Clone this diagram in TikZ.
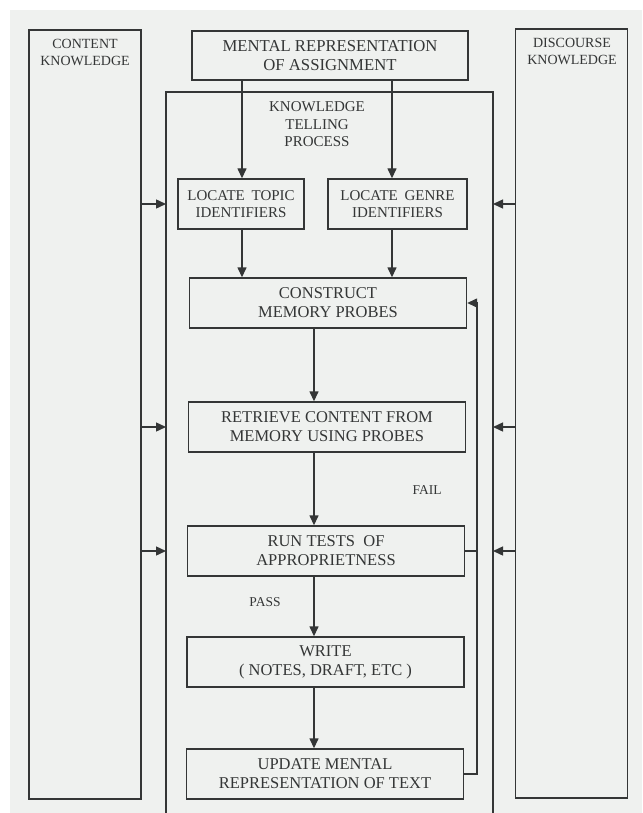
\documentclass[tikz,border=0pt]{standalone}
\usepackage{fontspec}
\setmainfont{Liberation Serif}
\usetikzlibrary{arrows.meta,positioning}
\definecolor{inkgray}{RGB}{52,54,54}
\definecolor{paper}{RGB}{239,241,239}

\begin{document}
\begin{tikzpicture}[x=1pt,y=-1pt,color=inkgray,line width=1.4pt,
    flow/.style={-{Triangle[length=10pt,width=9pt]}},
    store/.style={draw, inner sep=0pt, minimum width=112pt, minimum height=769pt},
    storetext/.style={align=center, inner sep=0pt, font=\fontsize{14}{17}\selectfont},
    idbox/.style={draw, inner sep=0pt, minimum height=50pt, align=center, font=\fontsize{15}{17}\selectfont},
    stepbox/.style={draw, inner sep=0pt, minimum width=277pt, minimum height=50pt, align=center, font=\fontsize{16.5}{19}\selectfont},
    cond/.style={inner sep=0pt, font=\fontsize{13.5}{16}\selectfont}]
        \useasboundingbox (0,0) rectangle (642,813);
        \fill[paper] (10,10) rectangle (642,813);
        % Knowledge stores
        \node (ck) at (85,414.5) [store] {};
        \node (ckl) at (85,52.5) [storetext] {CONTENT\\KNOWLEDGE};
        \node (dk) at (571.5,413.5) [store] {};
        \node (dkl) at (572,51.5) [storetext] {DISCOURSE\\KNOWLEDGE};
        % Assignment
        \node (mr) at (330,55.5) [stepbox, minimum width=276pt, minimum height=49pt, font=\fontsize{16.7}{18.5}\selectfont] {MENTAL REPRESENTATION\\OF ASSIGNMENT};
        % Process frame (open at the bottom)
        \coordinate (ktpsw) at (166,813);
        \coordinate (ktpne) at (493,92);
        \coordinate (ktpse) at (493,813);
        \draw (ktpsw) |- (ktpne) -- (ktpse);
        \node (ktp) at (317,124.5) [storetext, font=\fontsize{15}{17.5}\selectfont] {KNOWLEDGE\\TELLING\\PROCESS};
        % Process steps
        \node (lt) at (241,204) [idbox, minimum width=126pt] {LOCATE\hspace{0.45em}TOPIC\\IDENTIFIERS};
        \node (lg) at (397.5,204) [idbox, minimum width=139pt] {LOCATE\hspace{0.45em}GENRE\\IDENTIFIERS};
        \node (cmp) at (328,303) [stepbox] {CONSTRUCT\\MEMORY PROBES};
        \node (rc) at (327,427) [stepbox] {RETRIEVE CONTENT FROM\\MEMORY USING PROBES};
        \node (rt) at (326,551) [stepbox] {RUN TESTS\hspace{0.5em}OF\\APPROPRIETNESS};
        \node (wr) at (325.5,662) [stepbox] {WRITE\\( NOTES, DRAFT, ETC )};
        \node (um) at (325,774) [stepbox] {UPDATE MENTAL\\REPRESENTATION OF TEXT};
        \node (fail) at (427,490) [cond] {FAIL};
        \node (pass) at (265,602) [cond] {PASS};
        % Edges
        \coordinate (tx) at (242,0);
        \coordinate (gx) at (392,0);
        \coordinate (sx) at (314,0);
        \coordinate (fb) at (477,0);
        \foreach \a/\b in {tx/lt, gx/lg} {
            \draw[flow] (mr.south -| \a) -- (\b.north -| \a);
            \draw[flow] (\b.south -| \a) -- (cmp.north -| \a);
        }
        \foreach \a/\b in {cmp/rc, rc/rt, rt/wr, wr/um} {
            \draw[flow] (\a.south -| sx) -- (\b.north -| sx);
        }
        \foreach \n in {lt, rc, rt} {
            \draw[flow] (ck.east |- \n) -- (ktpsw |- \n);
            \draw[flow] (dk.west |- \n) -- (ktpse |- \n);
        }
        \draw[flow] (um.east) -- (um.east -| fb) -- (cmp.east -| fb) -- (cmp.east);
        \draw (rt.east) -- (rt.east -| fb);
    \end{tikzpicture}
\end{document}
